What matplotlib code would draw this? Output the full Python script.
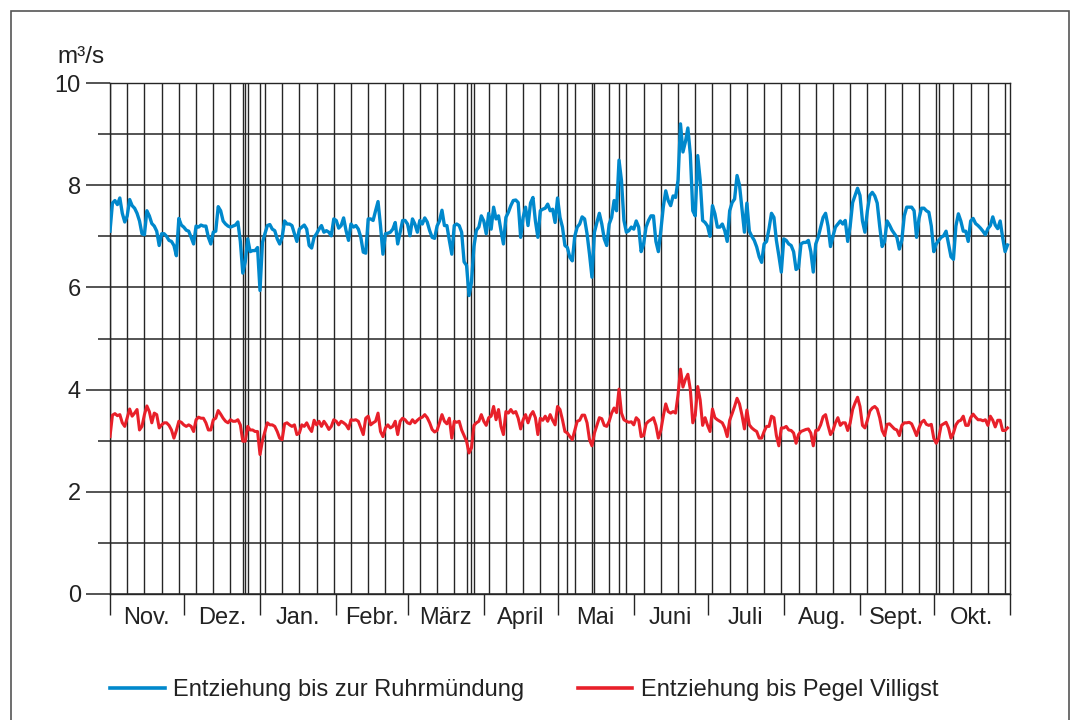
import matplotlib
matplotlib.use('Agg')
import matplotlib.pyplot as plt
import numpy as np
from matplotlib.lines import Line2D
from matplotlib.patches import Rectangle

plt.rcParams['font.family'] = ['Liberation Sans', 'DejaVu Sans']

# Abflussjahr 1.11.2015 - 31.10.2016, Tag 0 = 1. Nov. (Sonntag)
month_labels = ['Nov.', 'Dez.', 'Jan.', 'Febr.', 'März', 'April',
                'Mai', 'Juni', 'Juli', 'Aug.', 'Sept.', 'Okt.']
month_days = [30, 31, 31, 29, 31, 30, 31, 30, 31, 31, 30, 31]
# Feiertage (Tag ab 1. Nov.), Sonntage kommen extra
holidays = [54, 55, 61, 145, 148, 186, 197, 207, 337]

# Entziehung bis zur Ruhrmündung, m3/s (Tageswerte)
ruhr = [
    7.10, 7.65, 7.70, 7.62, 7.75, 7.45, 7.28,
    7.40, 7.72, 7.60, 7.55, 7.45, 7.30, 7.05,
    7.03, 7.50, 7.40, 7.25, 7.20, 7.10, 6.82,
    7.05, 7.05, 7.00, 6.92, 6.90, 6.82, 6.62,
    7.35, 7.22, 7.18, 7.12, 7.10, 6.98, 6.85,
    7.20, 7.18, 7.22, 7.20, 7.20, 6.98, 6.85,
    7.08, 7.10, 7.58, 7.50, 7.30, 7.24, 7.20,
    7.18, 7.20, 7.22, 7.28, 6.90, 6.28, 6.50,
    6.95, 6.70, 6.72, 6.72, 6.78, 5.94, 6.88,
    7.05, 7.21, 7.23, 7.14, 7.11, 6.95, 6.85,
    6.98, 7.30, 7.24, 7.24, 7.21, 7.05, 6.90,
    7.14, 7.18, 7.22, 7.14, 6.82, 6.77, 6.98,
    7.05, 7.14, 7.21, 7.08, 7.11, 7.08, 7.01,
    7.34, 7.31, 7.16, 7.21, 7.36, 7.11, 6.92,
    7.24, 7.18, 7.21, 7.14, 6.98, 6.69, 6.67,
    7.34, 7.34, 7.31, 7.50, 7.68, 7.21, 6.65,
    7.05, 7.06, 7.08, 7.14, 7.27, 6.85, 7.08,
    7.31, 7.31, 7.24, 7.01, 7.34, 7.24, 7.08,
    7.31, 7.24, 7.36, 7.28, 7.11, 6.98, 6.96,
    7.20, 7.30, 7.51, 7.21, 7.21, 6.92, 6.65,
    7.21, 7.24, 7.21, 7.08, 6.50, 6.43, 5.84,
    6.10, 6.80, 7.12, 7.18, 7.40, 7.30, 7.05,
    7.45, 7.14, 7.57, 7.34, 7.40, 7.11, 6.85,
    7.37, 7.47, 7.60, 7.70, 7.71, 7.66, 6.98,
    7.37, 7.57, 7.21, 7.65, 7.76, 7.30, 6.98,
    7.50, 7.53, 7.55, 7.63, 7.50, 7.53, 7.27,
    7.75, 7.37, 7.18, 6.82, 6.78, 6.59, 6.52,
    7.00, 7.18, 7.24, 7.38, 7.34, 7.05, 6.65,
    6.20, 7.08, 7.27, 7.45, 7.24, 6.95, 6.82,
    7.24, 7.37, 7.70, 7.50, 8.49, 8.09, 7.31,
    7.08, 7.11, 7.18, 7.14, 7.30, 7.18, 6.70,
    6.85, 7.18, 7.31, 7.40, 7.40, 6.90, 6.70,
    7.11, 7.57, 7.89, 7.70, 7.60, 7.79, 7.76,
    8.10, 9.20, 8.65, 8.85, 9.12, 8.60, 7.50,
    7.40, 8.58, 8.10, 7.31, 7.27, 7.20, 7.00,
    7.60, 7.44, 7.18, 7.18, 7.24, 7.11, 6.90,
    7.50, 7.66, 7.73, 8.19, 8.00, 7.55, 7.08,
    7.65, 7.10, 7.00, 6.92, 6.79, 6.60, 6.49,
    6.85, 6.90, 7.15, 7.45, 7.37, 6.92, 6.62,
    6.30, 6.95, 6.92, 6.85, 6.82, 6.70, 6.35,
    6.39, 6.85, 6.88, 6.88, 6.92, 6.70, 6.30,
    6.85, 6.98, 7.18, 7.37, 7.45, 7.20, 6.80,
    7.00, 7.18, 7.24, 7.30, 7.24, 7.31, 6.90,
    7.20, 7.66, 7.80, 7.94, 7.80, 7.30, 7.08,
    7.50, 7.80, 7.86, 7.79, 7.65, 7.20, 6.80,
    6.90, 7.30, 7.22, 7.12, 7.05, 6.98, 6.75,
    6.92, 7.40, 7.57, 7.57, 7.57, 7.50, 6.98,
    7.35, 7.55, 7.55, 7.50, 7.47, 7.20, 6.70,
    6.85, 6.92, 6.98, 7.01, 7.10, 6.85, 6.60,
    6.55, 7.20, 7.44, 7.30, 7.10, 7.10, 6.90,
    7.30, 7.35, 7.25, 7.21, 7.16, 7.10, 7.03,
    7.15, 7.21, 7.38, 7.22, 7.15, 7.30, 6.98,
    6.70, 6.83,
]

# Entziehung bis Pegel Villigst, m3/s (Tageswerte)
villigst = [
    3.08, 3.50, 3.53, 3.49, 3.51, 3.35, 3.28,
    3.45, 3.62, 3.48, 3.54, 3.61, 3.21, 3.28,
    3.51, 3.68, 3.57, 3.35, 3.54, 3.51, 3.25,
    3.31, 3.35, 3.35, 3.30, 3.21, 3.05, 3.20,
    3.38, 3.36, 3.31, 3.28, 3.31, 3.28, 3.18,
    3.41, 3.46, 3.44, 3.44, 3.35, 3.21, 3.21,
    3.41, 3.44, 3.59, 3.52, 3.44, 3.38, 3.35,
    3.41, 3.38, 3.38, 3.41, 3.31, 2.99, 2.99,
    3.28, 3.21, 3.21, 3.18, 3.18, 2.73, 3.00,
    3.18, 3.35, 3.31, 3.31, 3.28, 3.18, 3.05,
    3.02, 3.33, 3.35, 3.31, 3.28, 3.31, 3.12,
    3.15, 3.31, 3.28, 3.35, 3.25, 3.18, 3.40,
    3.31, 3.38, 3.28, 3.38, 3.31, 3.22, 3.28,
    3.41, 3.38, 3.31, 3.38, 3.35, 3.31, 3.23,
    3.41, 3.40, 3.41, 3.38, 3.25, 3.12, 3.44,
    3.48, 3.31, 3.35, 3.38, 3.54, 3.18, 3.08,
    3.25, 3.31, 3.25, 3.28, 3.38, 3.12, 3.38,
    3.44, 3.41, 3.35, 3.33, 3.41, 3.35, 3.40,
    3.44, 3.46, 3.51, 3.45, 3.35, 3.22, 3.17,
    3.20, 3.35, 3.51, 3.38, 3.33, 3.44, 3.05,
    3.38, 3.36, 3.38, 3.21, 3.10, 2.99, 2.76,
    2.86, 3.30, 3.35, 3.38, 3.51, 3.38, 3.30,
    3.45, 3.48, 3.67, 3.41, 3.61, 3.28, 3.12,
    3.57, 3.54, 3.61, 3.54, 3.57, 3.44, 3.23,
    3.41, 3.51, 3.35, 3.50, 3.57, 3.45, 3.12,
    3.44, 3.40, 3.48, 3.38, 3.51, 3.40, 3.31,
    3.67, 3.61, 3.41, 3.18, 3.15, 3.08, 3.02,
    3.20, 3.38, 3.40, 3.50, 3.50, 3.35, 3.02,
    2.90, 3.15, 3.30, 3.45, 3.43, 3.30, 3.28,
    3.38, 3.54, 3.64, 3.55, 4.01, 3.54, 3.41,
    3.38, 3.36, 3.37, 3.31, 3.45, 3.40, 3.08,
    3.10, 3.33, 3.38, 3.41, 3.45, 3.30, 3.05,
    3.20, 3.48, 3.72, 3.57, 3.54, 3.57, 3.54,
    3.90, 4.40, 4.05, 4.20, 4.30, 4.00, 3.35,
    3.50, 4.06, 3.80, 3.30, 3.45, 3.30, 3.18,
    3.62, 3.45, 3.41, 3.38, 3.35, 3.25, 3.08,
    3.40, 3.53, 3.67, 3.83, 3.72, 3.50, 3.23,
    3.60, 3.31, 3.25, 3.21, 3.18, 3.05, 3.05,
    3.18, 3.28, 3.28, 3.48, 3.45, 3.10, 2.90,
    3.25, 3.25, 3.28, 3.21, 3.20, 3.15, 2.95,
    3.12, 3.18, 3.20, 3.22, 3.23, 3.15, 2.90,
    3.20, 3.21, 3.31, 3.47, 3.51, 3.30, 3.12,
    3.20, 3.35, 3.45, 3.30, 3.35, 3.35, 3.20,
    3.35, 3.61, 3.74, 3.85, 3.67, 3.30, 3.25,
    3.40, 3.58, 3.64, 3.67, 3.62, 3.45, 3.20,
    3.10, 3.32, 3.33, 3.28, 3.23, 3.21, 3.10,
    3.30, 3.35, 3.35, 3.36, 3.33, 3.22, 3.10,
    3.25, 3.36, 3.40, 3.32, 3.30, 3.32, 3.05,
    2.95, 3.05, 3.30, 3.33, 3.36, 3.25, 3.05,
    3.15, 3.31, 3.38, 3.40, 3.48, 3.30, 3.30,
    3.45, 3.52, 3.46, 3.41, 3.41, 3.39, 3.41,
    3.30, 3.48, 3.40, 3.27, 3.40, 3.40, 3.20,
    3.20, 3.25,
]

blue = '#0088cc'
red = '#e8202a'
grid_col = '#252525'
text_col = '#222222'

days = np.arange(len(ruhr))
n_days = sum(month_days)
month_starts = np.concatenate([[0], np.cumsum(month_days)])
month_mids = (month_starts[:-1] + month_starts[1:]) / 2

fig = plt.figure(figsize=(10.75, 7.2), dpi=100)
ax = fig.add_axes([110 / 1075, 1 - 594 / 720, 900 / 1075, 511 / 720])

# Sonntage und Feiertage
for d in list(range(0, n_days, 7)) + holidays:
    ax.axvline(d, color=grid_col, lw=1.0, zorder=1)
for v in range(0, 11):
    ax.axhline(v, color=grid_col, lw=1.1, zorder=1)

ax.plot(days, ruhr, color=blue, lw=2.4, zorder=3, solid_joinstyle='round')
ax.plot(days, villigst, color=red, lw=2.2, zorder=3, solid_joinstyle='round')

ax.set_xlim(0, n_days)
ax.set_ylim(0, 10)

ax.set_yticks(range(0, 11, 2))
ax.set_yticks(range(1, 10, 2), minor=True)
ax.tick_params(axis='y', which='major', length=17, width=1.1, color=grid_col,
               pad=4, labelsize=17, labelcolor=text_col)
ax.tick_params(axis='y', which='minor', length=9, width=1.1, color=grid_col)

ax.set_xticks(month_starts)
ax.set_xticklabels([])
ax.set_xticks(month_mids, minor=True)
ax.set_xticklabels(month_labels, minor=True)
ax.tick_params(axis='x', which='major', length=15, width=1.0, color=grid_col)
ax.tick_params(axis='x', which='minor', length=0, pad=21.5, labelsize=17,
               labelcolor=text_col)
for lbl in ax.get_xticklabels(minor=True):
    lbl.set_verticalalignment('baseline')

for s in ax.spines.values():
    s.set_color(grid_col)
    s.set_linewidth(1.0)

fig.text(57 / 1075, 1 - 63 / 720, 'm³/s', fontsize=17.5, color=text_col,
         ha='left', va='baseline')

# Legende
fig.add_artist(Line2D([110 / 1075, 165 / 1075], [1 - 688 / 720] * 2,
                      color=blue, lw=2.6))
fig.text(173 / 1075, 1 - 696 / 720, 'Entziehung bis zur Ruhrmündung',
         fontsize=17, color=text_col, ha='left', va='baseline')
fig.add_artist(Line2D([578 / 1075, 632 / 1075], [1 - 688 / 720] * 2,
                      color=red, lw=2.6))
fig.text(641 / 1075, 1 - 696 / 720, 'Entziehung bis Pegel Villigst',
         fontsize=17, color=text_col, ha='left', va='baseline')

# Rahmen
fig.add_artist(Rectangle((11 / 1075, -0.05), (1069 - 11) / 1075,
                         1 - 11 / 720 + 0.05, transform=fig.transFigure,
                         fill=False, ec='#555555', lw=1.2))

fig.savefig('out.png', dpi=100)
